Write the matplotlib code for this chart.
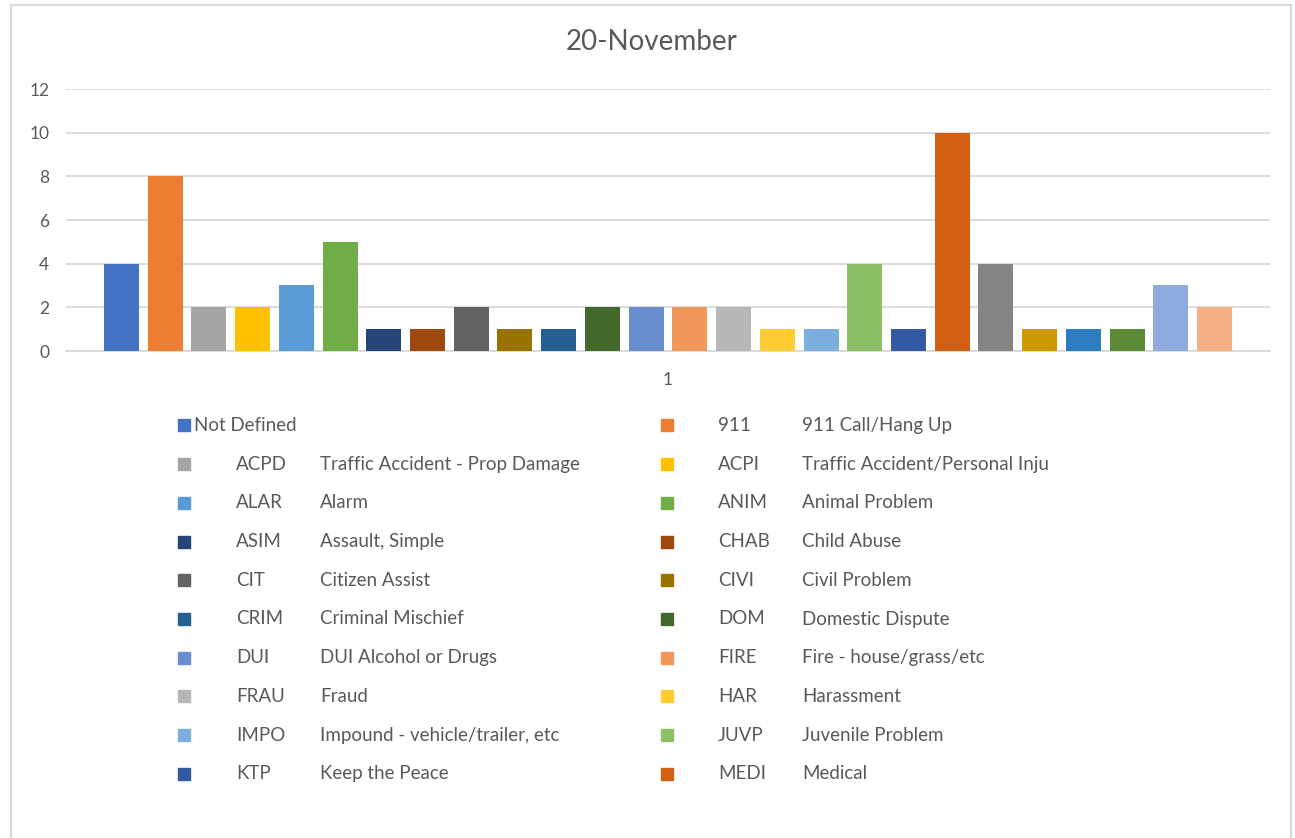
import matplotlib
matplotlib.use("Agg")
import matplotlib.pyplot as plt
from matplotlib.patches import Rectangle

plt.rcParams['font.family'] = ['Lato', 'DejaVu Sans']

# call counts for 20-November, one bar per call type (single category "1")
codes = ['', '911', 'ACPD', 'ACPI', 'ALAR', 'ANIM', 'ASIM', 'CHAB', 'CIT', 'CIVI',
         'CRIM', 'DOM', 'DUI', 'FIRE', 'FRAU', 'HAR', 'IMPO', 'JUVP', 'KTP', 'MEDI',
         '', '', '', '', '', '']
descriptions = ['Not Defined', '911 Call/Hang Up', 'Traffic Accident - Prop Damage',
                'Traffic Accident/Personal Inju', 'Alarm', 'Animal Problem',
                'Assault, Simple', 'Child Abuse', 'Citizen Assist', 'Civil Problem',
                'Criminal Mischief', 'Domestic Dispute', 'DUI Alcohol or Drugs',
                'Fire - house/grass/etc', 'Fraud', 'Harassment',
                'Impound - vehicle/trailer, etc', 'Juvenile Problem', 'Keep the Peace',
                'Medical', '', '', '', '', '', '']
counts = [4, 8, 2, 2, 3, 5, 1, 1, 2, 1, 1, 2, 2, 2, 2, 1, 1, 4, 1, 10, 4, 1, 1, 1, 3, 2]
colors = ['#4472C4', '#ED7D31', '#A5A5A5', '#FFC000', '#5B9BD5', '#70AD47',
          '#264478', '#9E480E', '#636363', '#997300', '#255E91', '#43682B',
          '#698ED0', '#F1975A', '#B7B7B7', '#FFCD33', '#7CAFDD', '#8CC168',
          '#335AA1', '#D26012', '#848484', '#CC9A00', '#2E7CC2', '#5A8A36',
          '#8FAADC', '#F2B084']
n_legend = 20  # legend is cut off after MEDI

W, H = 1295, 838
text_c = '#595959'
grid_c = '#D9D9D9'

fig = plt.figure(figsize=(W / 100, H / 100), dpi=100)
fig.patches.append(Rectangle((11 / W, -0.05), 1280 / W, 1 - 5 / H + 0.05,
                             transform=fig.transFigure, fill=False,
                             edgecolor=grid_c, linewidth=1.5))

ax = fig.add_axes([66 / W, 1 - 351 / H, (1270 - 66) / W, (351 - 89) / H])
x = list(range(len(counts)))
ax.bar(x, counts, width=0.8, color=colors, zorder=3)
ax.set_xlim(-1.27, len(counts) - 1 + 1.27)
ax.set_ylim(0, 12)
ax.set_yticks(range(0, 13, 2))
ax.yaxis.grid(True, color=grid_c, linewidth=1.3, zorder=0)
ax.set_xticks([])
for s in ['top', 'right', 'left']:
    ax.spines[s].set_visible(False)
ax.spines['bottom'].set_color(grid_c)
ax.spines['bottom'].set_linewidth(1.3)
ax.tick_params(axis='y', length=0, pad=12, labelsize=12.5, labelcolor=text_c)
ax.text(0.5, -29 / 262, '1', transform=ax.transAxes, ha='center', va='center',
        fontsize=12.5, color=text_c)

fig.text(652 / W, 1 - 42 / H, '20-November', ha='center', va='center',
         fontsize=20, color=text_c)

# legend drawn by hand, two columns, Excel style
row0, row_step = 425.5, 38.7
for i in range(n_legend):
    col, row = i % 2, i // 2
    yc = row0 + row * row_step
    mx = 178 if col == 0 else 661
    fig.patches.append(Rectangle((mx / W, 1 - (yc + 6) / H), 12 / W, 12 / H,
                                 transform=fig.transFigure, color=colors[i]))
    if codes[i]:
        cx = 236 if col == 0 else 718
        dx = 320 if col == 0 else 802
        fig.text(cx / W, 1 - yc / H, codes[i], ha='left', va='center',
                 fontsize=13.5, color=text_c)
        fig.text(dx / W, 1 - yc / H, descriptions[i], ha='left', va='center',
                 fontsize=13.5, color=text_c)
    else:
        fig.text(194 / W, 1 - yc / H, descriptions[i], ha='left', va='center',
                 fontsize=13.5, color=text_c)

fig.savefig('out.png', dpi=100)
